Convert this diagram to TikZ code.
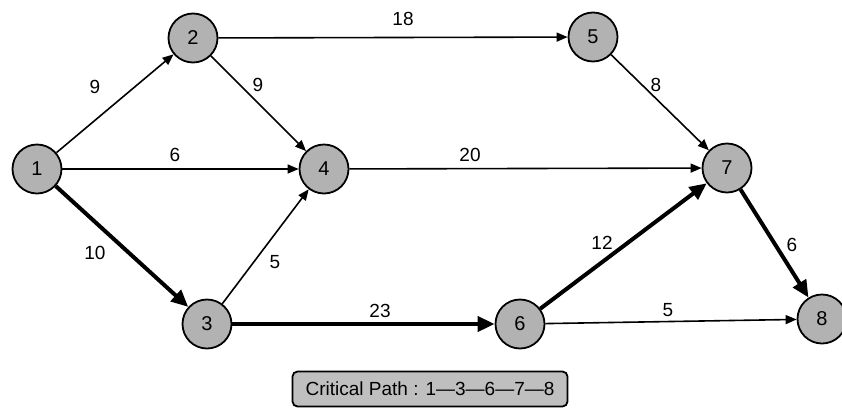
\documentclass[tikz,border=0pt]{standalone}
\usepackage{fontspec}
\setmainfont{Liberation Sans}
\usepackage{tikz}
\usetikzlibrary{arrows.meta}

\begin{document}
\begin{tikzpicture}[x=1pt, y=-1pt,
		event/.style={circle, draw=black, line width=1.8pt, fill=black!30, minimum size=49pt, inner sep=0pt, font=\fontsize{20}{22}\selectfont},
		act/.style={line width=1.6pt, -{Triangle[length=11pt, width=9pt]}},
		crit/.style={line width=4pt, -{Triangle[length=17pt, width=15pt]}},
		dur/.style={font=\fontsize{19}{21}\selectfont, inner sep=1pt},
		legend/.style={draw=black, line width=1.8pt, fill=black!25, rounded corners=5pt, minimum width=275pt, minimum height=35pt, font=\fontsize{19}{21}\selectfont}]
		\useasboundingbox (0,0) rectangle (842,410);

		\node[event] (N1) at (37, 169) {1};
		\node[event] (N2) at (193, 38) {2};
		\node[event] (N3) at (207, 324) {3};
		\node[event] (N4) at (324, 169) {4};
		\node[event] (N5) at (593, 37) {5};
		\node[event] (N6) at (520, 324) {6};
		\node[event] (N7) at (727, 168) {7};
		\node[event] (N8) at (822, 319) {8};

		\draw[act] (N1) -- (N2);
		\draw[act] (N1) -- (N4);
		\draw[crit] (N1) -- (N3);
		\draw[act] (N2) -- (N5);
		\draw[act] (N2) -- (N4);
		\draw[act] (N3) -- (N4);
		\draw[crit] (N3) -- (N6);
		\draw[act] (N4) -- (N7);
		\draw[act] (N5) -- (N7);
		\draw[crit] (N6) -- (N7);
		\draw[act] (N6) -- (N8);
		\draw[crit] (N7) -- (N8);

		\node[dur] (d12) at (95, 87) {9};
		\node[dur] (d25) at (403, 19) {18};
		\node[dur] (d24) at (258, 85) {9};
		\node[dur] (d14) at (175, 155) {6};
		\node[dur] (d47) at (470, 155) {20};
		\node[dur] (d57) at (656, 85) {8};
		\node[dur] (d13) at (95, 253) {10};
		\node[dur] (d34) at (275, 262) {5};
		\node[dur] (d36) at (380, 311) {23};
		\node[dur] (d67) at (602, 243) {12};
		\node[dur] (d68) at (668, 310) {5};
		\node[dur] (d78) at (792, 245) {6};

		\node[legend] (path) at (430, 389) {Critical Path : 1—3—6—7—8};

	\end{tikzpicture}
\end{document}
